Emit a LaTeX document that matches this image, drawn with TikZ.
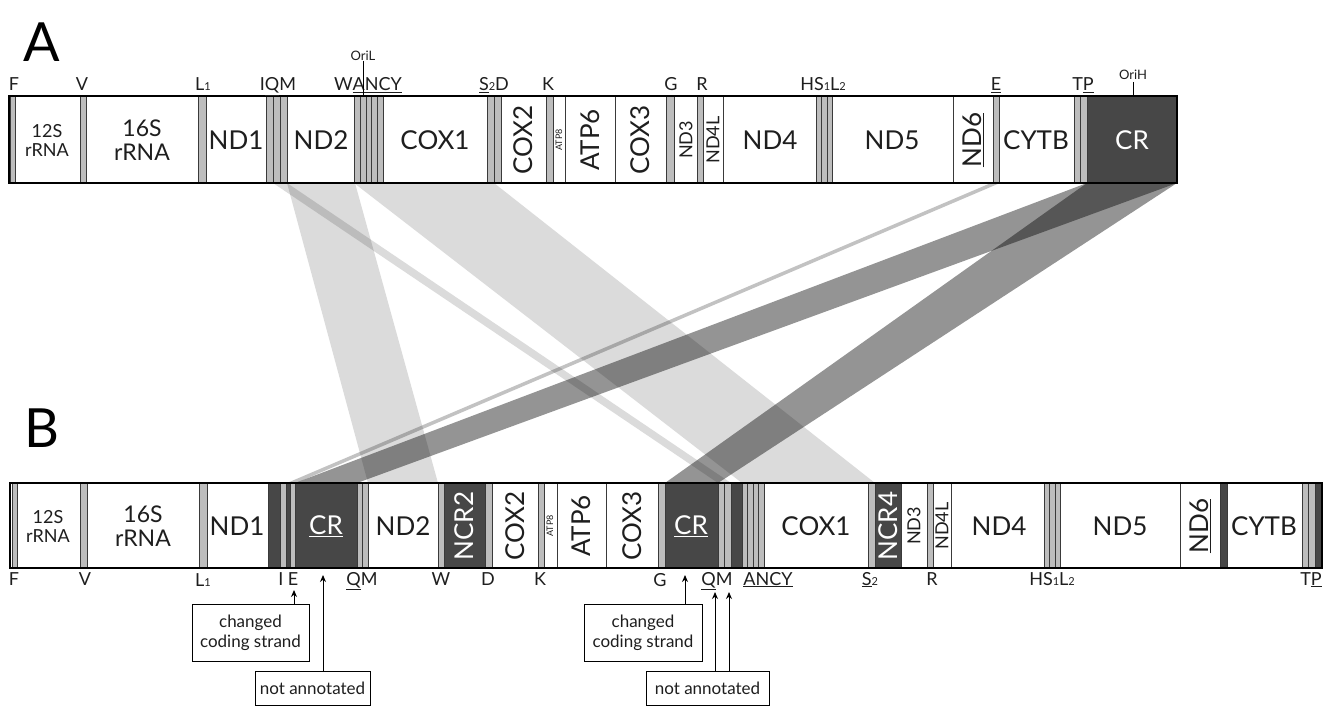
\documentclass[tikz,border=0pt]{standalone}
\usepackage{fontspec}
\setmainfont{Lato}
\usetikzlibrary{arrows.meta}
\definecolor{stripegray}{HTML}{BDBDBD}
\definecolor{linegray}{HTML}{3A3A3A}
\definecolor{crdark}{HTML}{474747}
\definecolor{txt}{HTML}{1E1E1E}
\newcommand\lowsub[1]{{\fontsize{11}{11}\selectfont #1}}
\begin{document}
\begin{tikzpicture}[x=1pt,y=-1pt,
  trna/.style={fill=stripegray,draw=linegray,line width=0.9pt},
  darkblk/.style={fill=crdark,draw=linegray,line width=0.9pt},
  divider/.style={draw=linegray,line width=0.9pt},
  barline/.style={line width=2.6pt,draw=black},
  lightband/.style={fill=black,fill opacity=0.14},
  midband/.style={fill=black,fill opacity=0.24},
  darkband/.style={fill=black,fill opacity=0.42},
  gene/.style={font=\fontsize{26}{28}\selectfont,text=txt,inner sep=0pt},
  midgene/.style={font=\fontsize{18}{19}\selectfont,text=txt,inner sep=0pt},
  rrna/.style={font=\fontsize{23}{24}\selectfont,text=txt,align=center,inner sep=0pt},
  srrna/.style={font=\fontsize{18}{19}\selectfont,text=txt,align=center,inner sep=0pt},
  tiny/.style={font=\fontsize{9}{9}\selectfont,text=txt,inner sep=0pt},
  wgene/.style={font=\fontsize{26}{28}\selectfont,text=white,inner sep=0pt},
  tlab/.style={font=\fontsize{18}{18}\selectfont,text=txt,anchor=base,inner sep=0pt},
  orilab/.style={font=\fontsize{13}{13}\selectfont,text=txt,inner sep=0pt},
  panel/.style={font=\fontsize{54}{54}\selectfont,text=black,inner sep=0pt},
  note/.style={draw=black,line width=1pt,fill=white,font=\fontsize{17}{20}\selectfont,text=txt,align=center,inner sep=0pt},
  arr/.style={draw=black,line width=1pt,-{Stealth[length=7pt,width=6pt]}}
]
\useasboundingbox (0,0) rectangle (1324,706);

% ---------------- ribbons ----------------
\fill[lightband] (287,183) -- (355,183) -- (438,483) -- (368,483) -- cycle;
\fill[lightband] (273,183) -- (287,183) -- (731,483) -- (718,483) -- cycle;
\fill[lightband] (354,183) -- (494,183) -- (875,483) -- (742,483) -- cycle;
\fill[midband] (991,183) -- (1000,183) -- (296,483) -- (287,483) -- cycle;
\fill[darkband] (1087,183) -- (1177,183) -- (357,483) -- (295,483) -- cycle;
\fill[darkband] (1087,183) -- (1177,183) -- (718,483) -- (665,483) -- cycle;

% ---------------- top bar ----------------
\node[panel] (labA) at (42,42) {A};
\fill[white] (9,96) rectangle (1177,183);
\foreach \a/\b in {10/15, 80/86, 198/206, 266/273, 273/280, 280/287,
  354/360, 360/366, 366/371, 371/377, 377/383, 487/494, 494/501, 546/553,
  666/674, 697/703, 816/821, 821/827, 827/832, 993/999, 1074/1080, 1080/1087}
  \draw[trna] (\a,96) rectangle (\b,183);
\foreach \x in {565,615,723,953} \draw[divider] (\x,96) -- (\x,183);
\draw[darkblk] (1087,96) rectangle (1177,183);
\draw[barline] (9,96) rectangle (1177,183);

\node[srrna] (t12s) at (47,140) {12S\\rRNA};
\node[rrna] (t16s) at (142,140) {16S\\rRNA};
\node[gene] (tnd1) at (236,140) {ND1};
\node[gene] (tnd2) at (321,140) {ND2};
\node[gene] (tcox1) at (435,140) {COX1};
\node[gene,rotate=90] (tcox2) at (523,140) {COX2};
\node[tiny,rotate=90] (tatp8) at (559,140) {ATP8};
\node[gene,rotate=90] (tatp6) at (590,140) {ATP6};
\node[gene,rotate=90] (tcox3) at (640,140) {COX3};
\node[midgene,rotate=90] (tnd3) at (686,140) {ND3};
\node[midgene,rotate=90] (tnd4l) at (713,140) {ND4L};
\node[gene] (tnd4) at (770,140) {ND4};
\node[gene] (tnd5) at (892,140) {ND5};
\node[gene,rotate=90] (tnd6) at (973,140) {\underline{ND6}};
\node[gene] (tcytb) at (1036,140) {CYTB};
\node[wgene] (tcr) at (1132,140) {CR};

% top tRNA labels
\node[tlab] (tF) at (14,91) {F};
\node[tlab] (tV) at (82,91) {V};
\node[tlab] (tL1) at (203,91) {L\lowsub{1}};
\node[tlab] (tIQM) at (278,91) {I\underline{Q}M};
\node[tlab] (tWANCY) at (368,91) {W\underline{ANCY}};
\node[tlab] (tS2D) at (494,91) {\underline{S}\lowsub{2}D};
\node[tlab] (tK) at (548,91) {K};
\node[tlab] (tG) at (671,91) {G};
\node[tlab] (tR) at (702,91) {R};
\node[tlab] (tHSL) at (823,91) {HS\lowsub{1}L\lowsub{2}};
\node[tlab] (tE) at (996,91) {\underline{E}};
\node[tlab] (tTP) at (1083,91) {T\underline{P}};

% origins
\node[orilab] (oril) at (363,56) {OriL};
\coordinate (orilbar) at (363,96);
\draw[line width=1pt] (oril.south) -- (orilbar);
\node[orilab] (orih) at (1133,75) {OriH};
\coordinate (orihbar) at (1133,96);
\draw[line width=1pt] (orih.south) ++(0,2) -- (orihbar);

% ---------------- bottom bar ----------------
\node[panel] (labB) at (42,428) {B};
\fill[white] (10,483) rectangle (1322,568);
\foreach \a/\b in {268/357, 444/485, 665/718, 731/742, 875/901, 1220/1227, 1315/1322}
  \draw[darkblk] (\a,483) rectangle (\b,568);
\foreach \a/\b in {12/17, 80/87, 199/207, 280/286, 290/295, 357/362, 362/368,
  438/444, 485/492, 538/544, 658/665, 718/724, 724/731, 742/747.5, 747.5/753,
  753/758.5, 758.5/764, 868/875, 927/933, 1044/1049, 1049/1055, 1055/1060,
  1302/1308, 1308/1315}
  \draw[trna] (\a,483) rectangle (\b,568);
\foreach \x in {557,606,951,1180} \draw[divider] (\x,483) -- (\x,568);
\draw[barline] (10,483) rectangle (1322,568);

\node[srrna] (b12s) at (48,526) {12S\\rRNA};
\node[rrna] (b16s) at (143,526) {16S\\rRNA};
\node[gene] (bnd1) at (237,526) {ND1};
\node[wgene] (bcr1) at (326,526) {\underline{CR}};
\node[gene] (bnd2) at (403,526) {ND2};
\node[wgene,rotate=90] (bncr2) at (464,526) {NCR2};
\node[gene,rotate=90] (bcox2) at (515,526) {COX2};
\node[tiny,rotate=90] (batp8) at (550,526) {ATP8};
\node[gene,rotate=90] (batp6) at (581,526) {ATP6};
\node[gene,rotate=90] (bcox3) at (632,526) {COX3};
\node[wgene] (bcr2) at (691,526) {\underline{CR}};
\node[gene] (bcox1) at (816,526) {COX1};
\node[wgene,rotate=90] (bncr4) at (888,526) {NCR4};
\node[midgene,rotate=90] (bnd3) at (914,526) {ND3};
\node[midgene,rotate=90] (bnd4l) at (942,526) {ND4L};
\node[gene] (bnd4) at (999,526) {ND4};
\node[gene] (bnd5) at (1120,526) {ND5};
\node[gene,rotate=90] (bnd6) at (1200,526) {\underline{ND6}};
\node[gene] (bcytb) at (1264,526) {CYTB};

% bottom tRNA labels
\node[tlab] (bF) at (14,585) {F};
\node[tlab] (bV) at (85,585) {V};
\node[tlab] (bL1) at (203,586) {L\lowsub{1}};
\node[tlab] (bI) at (281,585) {I};
\node[tlab] (bE) at (293,585) {E};
\node[tlab] (bQM) at (362,585) {\underline{Q}M};
\node[tlab] (bW) at (441,585) {W};
\node[tlab] (bD) at (488,585) {D};
\node[tlab] (bK) at (540,585) {K};
\node[tlab] (bG) at (660,586) {G};
\node[tlab] (bQM2) at (717,585) {\underline{Q}M};
\node[tlab] (bANCY) at (768,585) {\underline{ANCY}};
\node[tlab] (bS2) at (870,585) {\underline{S}\lowsub{2}};
\node[tlab] (bR) at (932,585) {R};
\node[tlab] (bHSL) at (1052,585) {HS\lowsub{1}L\lowsub{2}};
\node[tlab] (bTP) at (1311,585) {T\underline{P}};

% annotation boxes
\node[note,minimum width=117pt,minimum height=57pt] (n1) at (250.5,632.5) {changed\\coding strand};
\node[note,minimum width=115pt,minimum height=34pt] (n2) at (312.5,688) {not annotated};
\node[note,minimum width=118pt,minimum height=57pt] (n3) at (643,632.5) {changed\\coding strand};
\node[note,minimum width=123pt,minimum height=34pt] (n4) at (707.5,688) {not annotated};

\coordinate (e1) at (294,590);
\coordinate (c1) at (323,575);
\coordinate (c2) at (685,575);
\coordinate (q1) at (715,592);
\coordinate (q2) at (729,592);
\draw[arr] (n1.north -| e1) -- (e1);
\draw[arr] (n2.north -| c1) -- (c1);
\draw[arr] (n3.north -| c2) -- (c2);
\draw[arr] (n4.north -| q1) -- (q1);
\draw[arr] (n4.north -| q2) -- (q2);
\end{tikzpicture}
\end{document}
